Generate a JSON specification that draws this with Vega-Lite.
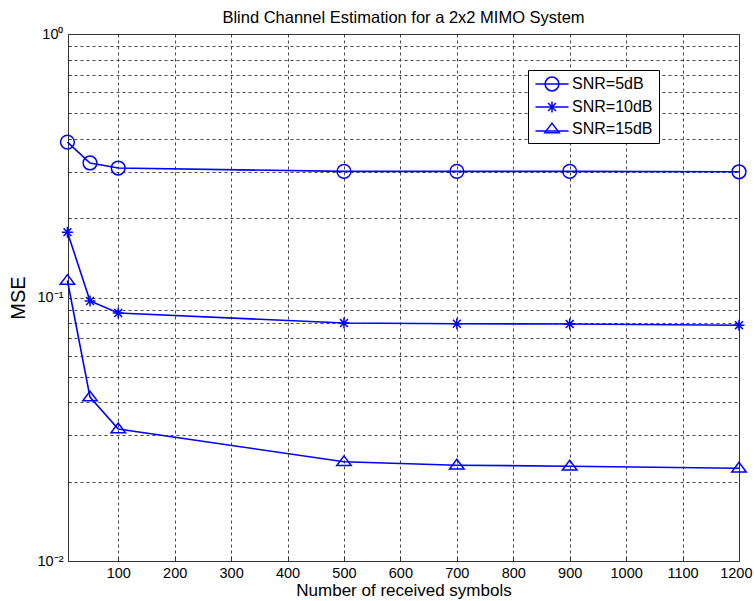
{
  "$schema": "https://vega.github.io/schema/vega-lite/v6.json",
  "width": 671,
  "height": 527,
  "autosize": {"type": "none"},
  "padding": {"left": 68, "top": 34, "right": 15, "bottom": 40},
  "background": "white",
  "title": {
    "text": "Blind Channel Estimation for a 2x2 MIMO System",
    "font": "Liberation Sans",
    "fontSize": 16.5,
    "fontWeight": "normal",
    "color": "black",
    "anchor": "middle",
    "offset": 0
  },
  "config": {
    "view": {"stroke": "#333333", "strokeWidth": 1},
    "axis": {
      "labelFont": "Liberation Sans",
      "titleFont": "Liberation Sans",
      "labelColor": "black",
      "titleColor": "black",
      "domainColor": "#333333",
      "tickColor": "#333333",
      "gridColor": "#333333",
      "gridDash": [3, 3],
      "gridOpacity": 0.9,
      "gridWidth": 1
    }
  },
  "data": {
    "values": [
      {"n": 10, "mse": 0.389, "snr": "SNR=5dB"},
      {"n": 50, "mse": 0.324, "snr": "SNR=5dB"},
      {"n": 100, "mse": 0.31, "snr": "SNR=5dB"},
      {"n": 500, "mse": 0.301, "snr": "SNR=5dB"},
      {"n": 700, "mse": 0.301, "snr": "SNR=5dB"},
      {"n": 900, "mse": 0.301, "snr": "SNR=5dB"},
      {"n": 1200, "mse": 0.3, "snr": "SNR=5dB"},
      {"n": 10, "mse": 0.177, "snr": "SNR=10dB"},
      {"n": 50, "mse": 0.097, "snr": "SNR=10dB"},
      {"n": 100, "mse": 0.0873, "snr": "SNR=10dB"},
      {"n": 500, "mse": 0.080, "snr": "SNR=10dB"},
      {"n": 700, "mse": 0.0795, "snr": "SNR=10dB"},
      {"n": 900, "mse": 0.0793, "snr": "SNR=10dB"},
      {"n": 1200, "mse": 0.0785, "snr": "SNR=10dB"},
      {"n": 10, "mse": 0.116, "snr": "SNR=15dB"},
      {"n": 50, "mse": 0.0419, "snr": "SNR=15dB"},
      {"n": 100, "mse": 0.0317, "snr": "SNR=15dB"},
      {"n": 500, "mse": 0.0238, "snr": "SNR=15dB"},
      {"n": 700, "mse": 0.0231, "snr": "SNR=15dB"},
      {"n": 900, "mse": 0.0229, "snr": "SNR=15dB"},
      {"n": 1200, "mse": 0.0225, "snr": "SNR=15dB"}
    ]
  },
  "encoding": {
    "x": {
      "field": "n",
      "type": "quantitative",
      "scale": {"domain": [11, 1200], "nice": false, "zero": false},
      "axis": {
        "title": "Number of received symbols",
        "titleFontSize": 17,
        "titleFontWeight": "normal",
        "titlePadding": 3,
        "labelFontSize": 14.5,
        "labelPadding": 10,
        "format": "d",
        "values": [100, 200, 300, 400, 500, 600, 700, 800, 900, 1000, 1100, 1200],
        "tickSize": -5,
        "labelFlush": true,
        "labelFlushOffset": 13,
        "grid": true
      }
    },
    "y": {
      "field": "mse",
      "type": "quantitative",
      "scale": {"type": "log", "domain": [0.01, 1], "nice": false},
      "axis": {
        "title": "MSE",
        "titleFontSize": 20,
        "titleFontWeight": "normal",
        "titlePadding": 9,
        "labelFontSize": 14.5,
        "labelPadding": 8,
        "values": [0.01, 0.02, 0.03, 0.04, 0.05, 0.06, 0.07, 0.08, 0.09, 0.1, 0.2, 0.3, 0.4, 0.5, 0.6, 0.7, 0.8, 0.9, 1],
        "labelExpr": "datum.value == 1 ? '10⁰' : datum.value == 0.1 ? '10⁻¹' : datum.value == 0.01 ? '10⁻²' : ''",
        "tickSize": -3,
        "labelFlush": false,
        "labelOverlap": false,
        "grid": true
      }
    }
  },
  "layer": [
    {
      "mark": {"type": "line", "color": "#0000FF", "strokeWidth": 1.6},
      "encoding": {"detail": {"field": "snr"}}
    },
    {
      "mark": {"type": "point", "filled": false, "color": "#0000FF", "strokeWidth": 1.5, "size": 190, "opacity": 1},
      "encoding": {
        "shape": {
          "field": "snr",
          "type": "nominal",
          "scale": {
            "domain": ["SNR=5dB", "SNR=10dB", "SNR=15dB"],
            "range": ["circle", "M0,-0.8L0,0.8M-0.8,0L0.8,0M-0.57,-0.57L0.57,0.57M-0.57,0.57L0.57,-0.57", "M-1.05,0.55L1.05,0.55L0,-0.85Z"]
          },
          "legend": null
        }
      }
    },
    {
      "mark": {"type": "point", "filled": false, "color": "#0000FF", "strokeWidth": 1.5, "size": 190, "opacity": 0},
      "encoding": {
        "shape": {
          "field": "snr",
          "type": "nominal",
          "scale": {
            "domain": ["SNR=5dB", "SNR=10dB", "SNR=15dB"],
            "range": [
              "M-2.4,0L2.4,0M-1,0A1,1,0,1,0,1,0A1,1,0,1,0,-1,0",
              "M-2.4,0L2.4,0M0,-0.8L0,0.8M-0.57,-0.57L0.57,0.57M-0.57,0.57L0.57,-0.57",
              "M-2.4,0.3L2.4,0.3M-1.05,0.55L1.05,0.55L0,-0.85Z"
            ]
          },
          "legend": {
            "title": null,
            "orient": "none",
            "legendX": 460,
            "legendY": 36,
            "labelFont": "Liberation Sans",
            "labelFontSize": 16,
            "labelColor": "black",
            "labelExpr": "datum.label + '\u00a0\u00a0\u00a0'",
            "strokeColor": "black",
            "fillColor": "white",
            "padding": 6,
            "symbolSize": 190,
            "symbolOpacity": 1,
            "symbolStrokeColor": "#0000FF",
            "symbolStrokeWidth": 1.5,
            "symbolFillColor": "transparent",
            "symbolOffset": 10,
            "labelOffset": 12,
            "rowPadding": 4
          }
        }
      }
    }
  ],
  "resolve": {"scale": {"shape": "independent"}, "legend": {"shape": "independent"}}
}
